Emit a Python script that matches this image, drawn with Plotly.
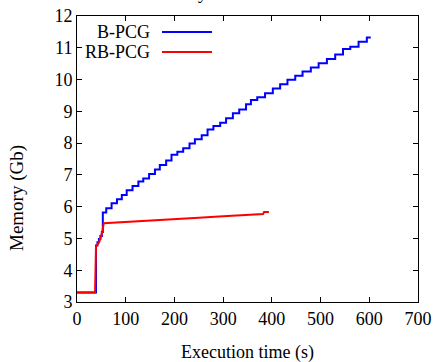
import plotly.graph_objects as go

# B-PCG (step changes: time in s, memory in Gb)
bpcg_time = [0, 39, 42, 45, 48, 51, 53, 60, 71, 82, 92, 102, 114, 126, 136, 148, 160, 170,
             183, 194, 206, 218, 231, 242, 256, 268, 280, 294, 306, 320, 333, 347, 357, 370,
             386, 402, 417, 432, 448, 463, 480, 496, 513, 530, 546, 561, 578, 595, 603]
bpcg_mem = [3.3, 4.78, 4.88, 4.98, 5.08, 5.2, 5.82, 5.95, 6.11, 6.23, 6.37, 6.52, 6.65, 6.79,
            6.89, 7.03, 7.17, 7.31, 7.45, 7.63, 7.73, 7.84, 7.99, 8.12, 8.25, 8.43, 8.54, 8.64,
            8.78, 8.94, 9.06, 9.22, 9.36, 9.44, 9.57, 9.72, 9.85, 9.99, 10.12, 10.25, 10.38,
            10.51, 10.65, 10.79, 10.96, 11.03, 11.19, 11.32, 11.32]

# RB-PCG
rbpcg_time = [0, 37, 39, 46, 49, 52, 55, 68, 98, 150, 200, 250, 300, 350, 382, 384, 394]
rbpcg_mem = [3.3, 3.3, 4.74, 4.9, 5.06, 5.21, 5.48, 5.49, 5.52, 5.55, 5.6, 5.65, 5.7, 5.74,
             5.77, 5.83, 5.83]

x_ticks = [0, 100, 200, 300, 400, 500, 600, 700]
y_ticks = [3, 4, 5, 6, 7, 8, 9, 10, 11, 12]
series_names = ["B-PCG", "RB-PCG"]
colors = ["#0000ff", "#ff0000"]

FONT = "Liberation Serif"

fig = go.Figure()
fig.add_trace(go.Scatter(x=bpcg_time, y=bpcg_mem, mode="lines", line_shape="hv",
                         line=dict(color=colors[0], width=2), name=series_names[0],
                         showlegend=False))
fig.add_trace(go.Scatter(x=rbpcg_time, y=rbpcg_mem, mode="lines",
                         line=dict(color=colors[1], width=2), name=series_names[1],
                         showlegend=False))

axis_common = dict(showline=True, linecolor="black", linewidth=1, mirror="ticks",
                   ticks="inside", ticklen=5, tickcolor="black", showgrid=False,
                   zeroline=False, tickfont=dict(family=FONT, size=18, color="black"))
fig.update_xaxes(range=[0, 700], tickvals=x_ticks, **axis_common)
fig.update_yaxes(range=[3, 12], tickvals=y_ticks, **axis_common)

W, H = 435, 362
L, R, T, B = 77, 17, 16, 60
pw, ph = W - L - R, H - T - B
def px(x):
    return (x - L) / pw
def py(y):
    return (H - B - y) / ph

annotations = [
    dict(text="Execution time (s)", x=0.5, y=py(352.5), xref="paper", yref="paper",
         xanchor="center", yanchor="middle",
         showarrow=False, font=dict(family=FONT, size=18, color="black")),
    dict(text="Memory (Gb)", x=px(17), y=py(198), xref="paper", yref="paper",
         xanchor="center", yanchor="middle",
         textangle=-90, showarrow=False, font=dict(family=FONT, size=19, color="black")),
    dict(text="Memory", x=px(143), y=py(5), xref="paper", yref="paper",
         xanchor="left", yanchor="bottom",
         showarrow=False, font=dict(family=FONT, size=18, color="black")),
]
shapes = []
for i, (name, c) in enumerate(zip(series_names, colors)):
    yy = py(32 + 20 * i)
    annotations.append(dict(text=name, x=px(152), y=yy, xref="paper", yref="paper",
                            xanchor="right", yanchor="middle", showarrow=False,
                            font=dict(family=FONT, size=18, color="black")))
    shapes.append(dict(type="line", xref="paper", yref="paper", x0=px(162), x1=px(212),
                       y0=yy, y1=yy, line=dict(color=c, width=2)))

fig.update_layout(width=W, height=H,
                  margin=dict(l=L, r=R, t=T, b=B, autoexpand=False),
                  plot_bgcolor="white", paper_bgcolor="white",
                  annotations=annotations, shapes=shapes)

fig.write_html("out.html", config={"displayModeBar": False},
               post_script="document.body.style.margin='0';document.body.style.overflow='hidden';")
